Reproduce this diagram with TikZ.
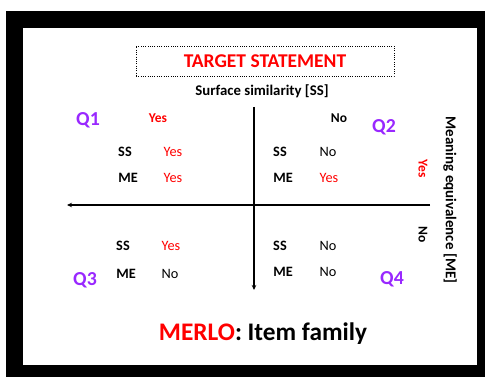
\documentclass[tikz,border=0pt]{standalone}
\usepackage{fontspec}
\setmainfont{Carlito}
\usetikzlibrary{arrows.meta}
\definecolor{qpurple}{RGB}{153,40,255}
\definecolor{tred}{RGB}{255,0,0}
\begin{document}
\begin{tikzpicture}[x=1pt,y=-1pt,
  lab/.style={inner sep=0pt,anchor=center},
  bl/.style={lab,font=\fontsize{14.3}{14}\selectfont\bfseries},
  val/.style={lab,font=\fontsize{14.3}{14}\selectfont},
  redval/.style={val,text=tred},
  qlab/.style={lab,font=\fontsize{19.8}{20}\selectfont\bfseries,text=qpurple},
  axis/.style={line width=1.2pt,-{Stealth[length=5pt,width=4.5pt]}}]
\useasboundingbox (0,0) rectangle (485,377);
\fill[black] (6,11) rectangle (485,377);
\fill[white] (23,28) rectangle (477,365);
% title box
\node[lab,draw,dash pattern=on 0.9pt off 1.4pt,line width=0.9pt,minimum width=258pt,minimum height=30pt,
  font=\fontsize{19.5}{20}\selectfont\bfseries,text=tred] (title) at (265,61) {TARGET STATEMENT};
\node[lab,font=\fontsize{14.8}{15}\selectfont\bfseries] (ss) at (262,91) {Surface similarity [SS]};
% axes
\coordinate (vtop) at (254,107);
\coordinate (vbot) at (254,290);
\coordinate (hright) at (430,205);
\coordinate (hleft) at (67,205);
\draw[axis] (vtop) -- (vbot);
\draw[axis] (hright) -- (hleft);
% column headers
\node[lab,font=\fontsize{13.5}{14}\selectfont\bfseries,text=tred] (hyes) at (158,118) {Yes};
\node[lab,font=\fontsize{13.5}{14}\selectfont\bfseries] (hno) at (339,118) {No};
% quadrant labels
\node[qlab] (q1) at (88,120) {Q1};
\node[qlab] (q2) at (384,127) {Q2};
\node[qlab] (q3) at (85,280) {Q3};
\node[qlab] (q4) at (392,279) {Q4};
% Q1
\node[bl] (q1ss) at (125,152) {SS};
\node[redval] (q1ssv) at (173,152) {Yes};
\node[bl] (q1me) at (128,178) {ME};
\node[redval] (q1mev) at (173,178) {Yes};
% Q2
\node[bl] (q2ss) at (280,152) {SS};
\node[val] (q2ssv) at (328,152) {No};
\node[bl] (q2me) at (283,178) {ME};
\node[redval] (q2mev) at (329,178) {Yes};
% Q3
\node[bl] (q3ss) at (123,246) {SS};
\node[redval] (q3ssv) at (171,246) {Yes};
\node[bl] (q3me) at (126,274) {ME};
\node[val] (q3mev) at (170,274) {No};
% Q4
\node[bl] (q4ss) at (280,246) {SS};
\node[val] (q4ssv) at (328,246) {No};
\node[bl] (q4me) at (283,272) {ME};
\node[val] (q4mev) at (328,272) {No};
% right axis labels
\node[lab,rotate=-90,font=\fontsize{13.5}{14}\selectfont\bfseries,text=tred] (ryes) at (423,169) {Yes};
\node[lab,rotate=-90,font=\fontsize{13.5}{14}\selectfont\bfseries] (rno) at (423,235) {No};
\node[lab,rotate=-90,font=\fontsize{15}{15}\selectfont\bfseries] (me) at (450,200) {Meaning equivalence [ME]};
% footer
\node[lab,font=\fontsize{25.3}{26}\selectfont\bfseries] (foot) at (263,334) {\textcolor{tred}{MERLO}: Item family};
\end{tikzpicture}
\end{document}
